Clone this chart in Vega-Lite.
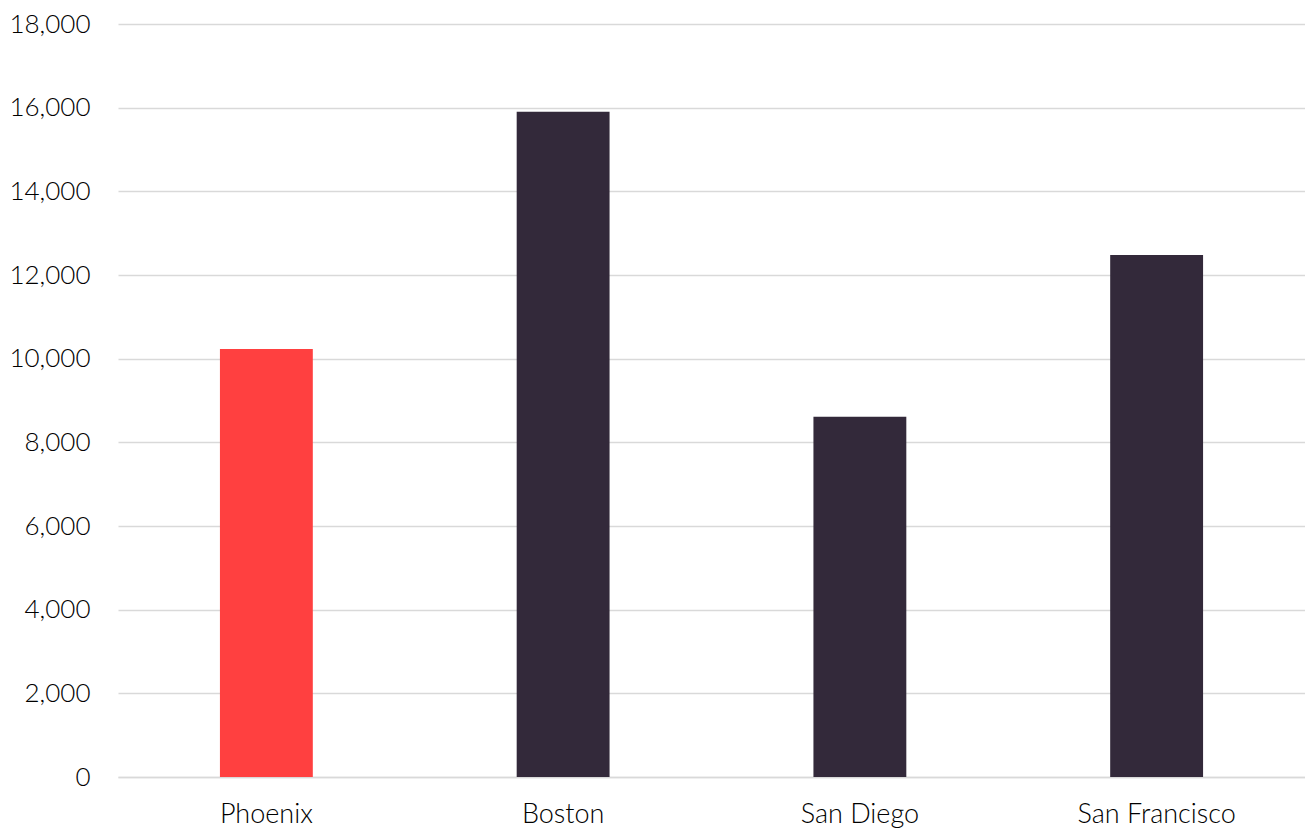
{
  "$schema": "https://vega.github.io/schema/vega-lite/v6.json",
  "autosize": {"type": "none"},
  "width": 1187,
  "height": 753,
  "padding": {"left": 118, "top": 24, "right": 0, "bottom": 51},
  "background": "white",
  "data": {"values": [
    {"city": "Phoenix", "value": 10230, "group": "highlight"},
    {"city": "Boston", "value": 15900, "group": "other"},
    {"city": "San Diego", "value": 8610, "group": "other"},
    {"city": "San Francisco", "value": 12480, "group": "other"}
  ]},
  "config": {
    "view": {"stroke": null},
    "font": "Lato"
  },
  "mark": {"type": "bar"},
  "encoding": {
    "x": {
      "field": "city", "type": "nominal", "sort": null,
      "scale": {"paddingInner": 0.687, "paddingOuter": 0.3435},
      "axis": {
        "title": null, "labelAngle": 0, "ticks": false,
        "domainColor": "#d9d9d9", "domainWidth": 1.5,
        "labelFont": "Lato", "labelFontSize": 27, "labelFontWeight": 300, "labelColor": "#000000",
        "labelPadding": 24, "labelBaseline": "top"
      }
    },
    "y": {
      "field": "value", "type": "quantitative",
      "scale": {"domain": [0, 18000], "nice": false},
      "axis": {
        "title": null, "values": [0, 2000, 4000, 6000, 8000, 10000, 12000, 14000, 16000, 18000],
        "format": ",d", "ticks": false, "domain": false,
        "gridColor": "#d9d9d9", "gridWidth": 1.5,
        "labelFont": "Lato", "labelFontSize": 26, "labelFontWeight": 300, "labelColor": "#000000",
        "labelPadding": 28
      }
    },
    "color": {
      "field": "group", "type": "nominal",
      "scale": {"domain": ["highlight", "other"], "range": ["#FF4040", "#33293A"]},
      "legend": null
    }
  }
}
